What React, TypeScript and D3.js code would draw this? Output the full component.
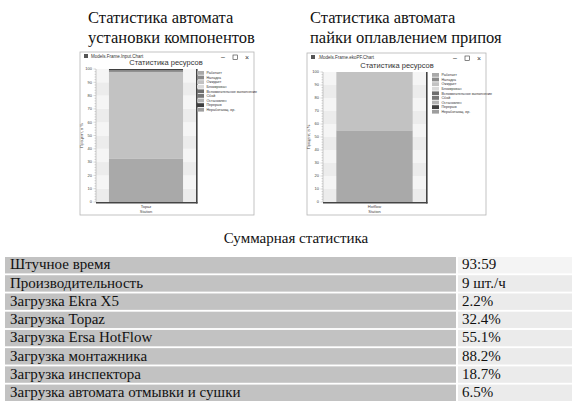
import React from "react";
import * as d3 from "d3";

const legendNames = ["Работает", "Наладка", "Ожидает", "Блокирован", "Вспомогательное выполнение", "Сбой", "Остановлен", "Перерыв", "Неработающ. вр."];
const legendColors = ["#a9a9a9", "#8a8a8a", "#c2c2c2", "#dadada", "#6e6e6e", "#777777", "#b3b3b3", "#3f3f3f", "#9e9e9e"];

const leftStates = ["Работает", "Ожидает", "Наладка", "Перерыв"];
const leftValues = [32.4, 65.4, 1.2, 1.0];
const rightStates = ["Работает", "Ожидает"];
const rightValues = [55.1, 44.9];

const yTicks = [0, 10, 20, 30, 40, 50, 60, 70, 80, 90, 100];

const tableLabels = ["Штучное время", "Производительность", "Загрузка Ekra X5", "Загрузка Topaz", "Загрузка Ersa HotFlow", "Загрузка монтажника", "Загрузка инспектора", "Загрузка автомата отмывки и сушки"];
const tableValues = ["93:59", "9 шт./ч", "2.2%", "32.4%", "55.1%", "88.2%", "18.7%", "6.5%"];

const colorOf = (n: string) => legendColors[legendNames.indexOf(n)];

type ChartProps = {
  win: { x: number; y: number; w: number; h: number };
  plot: { x: number; y: number; w: number; h: number };
  winTitle: string;
  category: string;
  states: string[];
  values: number[];
  legendX: number;
  legendY: number;
  titleX: number;
  titleY: number;
};

function ChartWindow(p: ChartProps) {
  const { win, plot } = p;
  const y = d3.scaleLinear().domain([0, 100]).range([plot.y + plot.h, plot.y]);
  const x = d3.scaleBand().domain([p.category]).range([plot.x, plot.x + plot.w]).padding(0.149);
  let acc = 0;
  const segs = p.values.map((v, i) => {
    const s = { name: p.states[i], y0: acc, y1: acc + v };
    acc += v;
    return s;
  });
  const minor = d3.range(0, 101, 2);
  const ui = "Liberation Sans, Arial, sans-serif";
  return (
    <g>
      <rect x={win.x} y={win.y} width={win.w} height={win.h} fill="#fff" stroke="#b5b5b5" strokeWidth={0.8} />
      <rect x={win.x + 4} y={win.y + 2} width={4} height={4} fill="#555" />
      <text x={win.x + 11} y={win.y + 6} fontSize={4.5} fontFamily={ui} fill="#333">{p.winTitle}</text>
      <text x={win.x + win.w - 33} y={win.y + 7} fontSize={7} fontFamily={ui} fill="#333">–</text>
      <rect x={win.x + win.w - 21} y={win.y + 3} width={4.5} height={4.5} fill="none" stroke="#333" strokeWidth={0.6} />
      <text x={win.x + win.w - 9} y={win.y + 7.5} fontSize={7} fontFamily={ui} fill="#333">×</text>
      <text x={p.titleX} y={p.titleY} fontSize={7.5} fontFamily={ui} fill="#333" textAnchor="middle">Статистика ресурсов</text>
      {yTicks.slice(0, -1).map((t, i) => (
        <rect key={t} x={plot.x} y={y(t + 10)} width={plot.w} height={y(t) - y(t + 10)} fill={i % 2 === 0 ? "#ececec" : "#f5f5f5"} />
      ))}
      {segs.map((s) => (
        <rect key={s.name} x={x(p.category)} y={y(s.y1)} width={x.bandwidth()} height={y(s.y0) - y(s.y1)} fill={colorOf(s.name)} />
      ))}
      <line x1={plot.x} x2={plot.x + plot.w + 1.5} y1={plot.y + plot.h + 0.8} y2={plot.y + plot.h + 0.8} stroke="#444" strokeWidth={1.6} />
      <line x1={plot.x + plot.w + 0.8} x2={plot.x + plot.w + 0.8} y1={plot.y} y2={plot.y + plot.h + 1.5} stroke="#444" strokeWidth={1.6} />
      <line x1={plot.x} x2={plot.x} y1={plot.y} y2={plot.y + plot.h} stroke="#999" strokeWidth={0.5} />
      {minor.map((t) => (
        <line key={t} x1={plot.x - (t % 10 === 0 ? 2.5 : 1.5)} x2={plot.x} y1={y(t)} y2={y(t)} stroke="#999" strokeWidth={0.4} />
      ))}
      {yTicks.map((t) => (
        <text key={t} x={plot.x - 4} y={y(t) + 1.3} fontSize={4} fontFamily={ui} fill="#444" textAnchor="end">{t}</text>
      ))}
      <text transform={`translate(${plot.x - 13},${plot.y + plot.h / 2}) rotate(-90)`} fontSize={4} fontFamily={ui} fill="#444" textAnchor="middle">Процент, в %</text>
      <text x={(x(p.category) as number) + x.bandwidth() / 2} y={plot.y + plot.h + 6} fontSize={4} fontFamily={ui} fill="#444" textAnchor="middle">{p.category}</text>
      <text x={(x(p.category) as number) + x.bandwidth() / 2} y={plot.y + plot.h + 11} fontSize={4} fontFamily={ui} fill="#444" textAnchor="middle">Station</text>
      {legendNames.map((n, i) => (
        <g key={n}>
          <rect x={p.legendX} y={p.legendY + i * 4.6} width={7} height={3.8} fill={legendColors[i]} />
          <text x={p.legendX + 9.5} y={p.legendY + i * 4.6 + 3.2} fontSize={3.6} fontFamily={ui} fill="#333">{n}</text>
        </g>
      ))}
    </g>
  );
}

export default function App() {
  const serif = "Liberation Serif, Times New Roman, serif";
  const rowY = d3.scaleBand().domain(tableLabels).range([257, 401]).paddingInner(0.1).paddingOuter(0);
  return (
    <svg width={572} height={404} style={{ position: "absolute", left: 0, top: 0, background: "#fff" }}>
      <rect width={572} height={404} fill="#fff" />
      <text x={88} y={23} fontSize={16.5} fontFamily={serif} fill="#111">Статистика автомата</text>
      <text x={88} y={43} fontSize={16.5} fontFamily={serif} fill="#111">установки компонентов</text>
      <text x={310} y={23} fontSize={16.5} fontFamily={serif} fill="#111">Статистика автомата</text>
      <text x={310} y={43} fontSize={16.5} fontFamily={serif} fill="#111">пайки оплавлением припоя</text>
      <ChartWindow
        win={{ x: 80, y: 52, w: 174, h: 163 }}
        plot={{ x: 96, y: 69, w: 100, h: 133 }}
        winTitle="Models.Frame.Input.Chart"
        category="Topaz"
        states={leftStates}
        values={leftValues}
        legendX={197}
        legendY={71}
        titleX={166}
        titleY={65}
      />
      <ChartWindow
        win={{ x: 307, y: 53, w: 179, h: 162 }}
        plot={{ x: 323, y: 72, w: 103, h: 130 }}
        winTitle=".Models.Frame.ekoPF.Chart"
        category="Hotflow"
        states={rightStates}
        values={rightValues}
        legendX={432}
        legendY={73}
        titleX={397}
        titleY={68}
      />
      <text x={296} y={243} fontSize={15} fontFamily={serif} fill="#111" textAnchor="middle">Суммарная статистика</text>
      {tableLabels.map((l, i) => {
        const y0 = rowY(l) as number;
        const h = rowY.bandwidth();
        return (
          <g key={l}>
            <rect x={5} y={y0} width={451} height={h} fill="#c2c2c2" />
            <rect x={458} y={y0} width={114} height={h} fill={i === 0 ? "#f4f4f4" : "#ebebeb"} />
            <text x={10} y={y0 + h - 4} fontSize={15} fontFamily={serif} fill="#111">{l}</text>
            <text x={462} y={y0 + h - 4} fontSize={15} fontFamily={serif} fill="#111">{tableValues[i]}</text>
          </g>
        );
      })}
    </svg>
  );
}
